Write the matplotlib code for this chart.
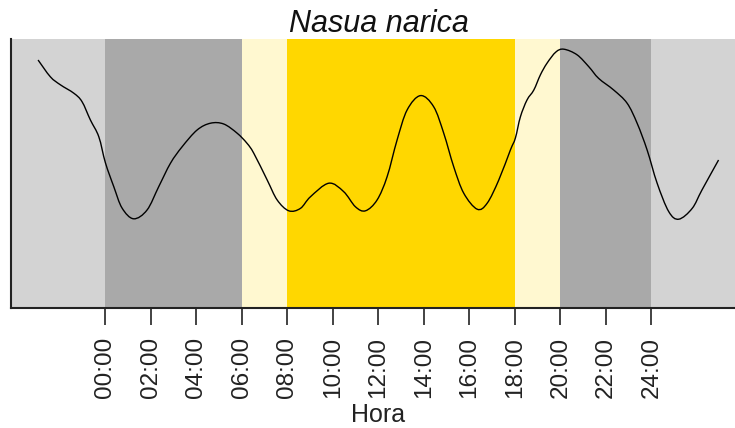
import matplotlib
matplotlib.use("Agg")
import matplotlib.pyplot as plt
from matplotlib.path import Path
from matplotlib.patches import PathPatch

# Activity density curve (hours, density)
hours = [-2.96, -2.42, -1.98, -1.39, -1.03, -0.66, -0.29, 0.0, 0.37, 0.73,
         1.24, 1.83, 2.34, 2.86, 3.37, 4.03, 4.62, 5.2, 5.79, 6.22,
         6.52, 7.11, 7.55, 8.06, 8.57, 9.01, 9.82, 10.47, 10.99, 11.43,
         11.94, 12.38, 12.82, 13.26, 13.85, 14.43, 14.87, 15.31, 15.75, 16.34,
         16.78, 17.29, 17.8, 18.02, 18.24, 18.53, 18.83, 19.12, 19.41, 19.8,
         20.15, 20.73, 21.25, 21.68, 22.34, 22.93, 23.37, 23.81, 24.25, 24.76,
         25.2, 25.79, 26.22, 26.95]
density = [0.0620, 0.0578, 0.0558, 0.0537, 0.0516, 0.0470, 0.0428, 0.0363, 0.0303, 0.0250,
           0.0223, 0.0245, 0.0303, 0.0362, 0.0403, 0.0445, 0.0462, 0.0460, 0.0437, 0.0412,
           0.0387, 0.0320, 0.0270, 0.0243, 0.0249, 0.0278, 0.0312, 0.0291, 0.0253, 0.0243,
           0.0270, 0.0328, 0.0420, 0.0495, 0.0531, 0.0503, 0.0437, 0.0353, 0.0287, 0.0247,
           0.0262, 0.0320, 0.0395, 0.0425, 0.0478, 0.0520, 0.0545, 0.0583, 0.0612, 0.0640,
           0.0647, 0.0633, 0.0603, 0.0574, 0.0545, 0.0512, 0.0462, 0.0395, 0.0312, 0.0241,
           0.0222, 0.0249, 0.0295, 0.0370]

# Background periods (start, end, colour)
band_starts = [-10, 0, 6, 8, 18, 20, 24]
band_ends = [0, 6, 8, 18, 20, 24, 40]
band_colors = ["#D3D3D3", "#A9A9A9", "#FFF8D0", "#FFD700", "#FFF8D0", "#A9A9A9", "#D3D3D3"]

tick_pos = list(range(0, 25, 2))
tick_labels = ["%02d:00" % h for h in tick_pos]

title = "Nasua narica"
xlabel = "Hora"


def smooth_path(xs, ys):
    """Catmull-Rom curve through the read points, as cubic Bezier segments."""
    verts = [(xs[0], ys[0])]
    codes = [Path.MOVETO]
    n = len(xs)
    for i in range(n - 1):
        x0, y0 = (xs[i - 1], ys[i - 1]) if i > 0 else (xs[i], ys[i])
        x1, y1 = xs[i], ys[i]
        x2, y2 = xs[i + 1], ys[i + 1]
        x3, y3 = (xs[i + 2], ys[i + 2]) if i + 2 < n else (x2, y2)
        c1 = (x1 + (x2 - x0) / 6.0, y1 + (y2 - y0) / 6.0)
        c2 = (x2 - (x3 - x1) / 6.0, y2 - (y3 - y1) / 6.0)
        verts += [c1, c2, (x2, y2)]
        codes += [Path.CURVE4] * 3
    return Path(verts, codes)


W, H = 735, 428
fig = plt.figure(figsize=(W / 100, H / 100), dpi=100)
ax = fig.add_axes([11 / W, (H - 308) / H, 736 / W, 269 / H])

for s, e, c in zip(band_starts, band_ends, band_colors):
    ax.axvspan(s, e, color=c, lw=0, zorder=0)

ax.add_patch(PathPatch(smooth_path(hours, density), facecolor="none",
                       edgecolor="black", lw=1.0, zorder=3))

ax.set_xlim(-4.15, 28.2)
ax.set_ylim(0, 0.06725)

ax.spines["top"].set_visible(False)
ax.spines["right"].set_visible(False)
ax.spines["left"].set_linewidth(1.5)
ax.spines["bottom"].set_linewidth(1.5)
ax.spines["left"].set_color("#222222")
ax.spines["bottom"].set_color("#222222")
ax.set_yticks([])
ax.set_xticks(tick_pos)
ax.set_xticklabels(tick_labels, rotation=90, fontsize=17.5,
                   family=["Liberation Sans", "DejaVu Sans"], color="#222222")
ax.tick_params(axis="x", length=12, width=1.2, pad=9, color="#222222")

ax.set_title(title, fontsize=22, style="italic",
             family=["Liberation Sans", "DejaVu Sans"], pad=-2, color="#111111")
fig.text((105 + 12 * 22.75) / W, 1 - 415 / H, xlabel, ha="center", va="center",
         fontsize=18, family=["Liberation Sans", "DejaVu Sans"], color="#222222")

fig.savefig("out.png", dpi=100)
